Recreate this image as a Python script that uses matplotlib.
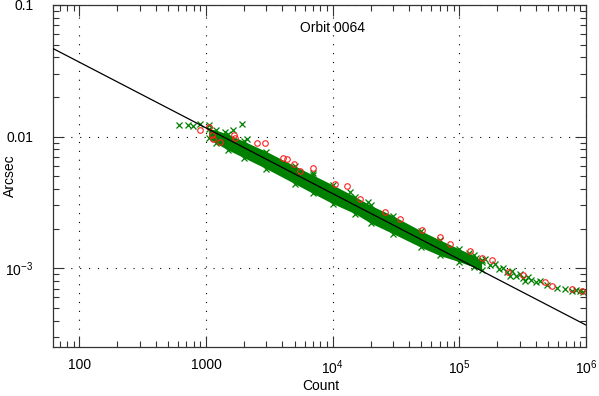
import matplotlib
matplotlib.use('Agg')
import matplotlib.pyplot as plt
from matplotlib.ticker import FixedLocator, LogLocator, NullFormatter

plt.rcParams['font.family'] = ['Liberation Sans', 'DejaVu Sans']
plt.rcParams['mathtext.default'] = 'regular'

# fit line (end points)
line_x = [62, 1.0e6]
line_y = [0.0467, 0.00037]

# dense core of the green cloud: lower / upper edge at each count
band_x = [1050, 1200, 1500, 2000, 3000, 5000, 7000, 10000, 15000, 20000,
          30000, 50000, 70000, 100000, 130000, 150000]
band_lo = [0.0098, 0.0089, 0.0079, 0.0069, 0.0057, 0.0044, 0.0037, 0.0031,
           0.0026, 0.0022, 0.00183, 0.00144, 0.00125, 0.00112, 0.00102, 0.00097]
band_hi = [0.0115, 0.0112, 0.0104, 0.0092, 0.0077, 0.0060, 0.0051, 0.0043,
           0.0035, 0.0030, 0.00250, 0.00192, 0.00164, 0.00140, 0.00125, 0.00115]

# green crosses outside the core
green_x = [615, 724, 794, 902, 1062, 1419, 1641, 1936, 2118, 7031, 13770, 19100,
           120000, 135000, 150000, 160000, 175000, 190000, 205000, 220000, 240000,
           250000, 260000, 280000, 300000, 320000, 330000, 350000, 370000, 400000,
           430000, 490000, 590000, 680000, 770000, 830000, 900000, 950000]
green_y = [0.01233, 0.01233, 0.0121, 0.01254, 0.01233, 0.0109, 0.0113, 0.01254,
           0.00966, 0.00533, 0.00377, 0.00316,
           0.00130, 0.00120, 0.00112, 0.00117, 0.00105, 0.00108, 0.00099, 0.00100,
           0.00093, 0.00087, 0.00095, 0.00088, 0.00090, 0.00084, 0.00080, 0.00086,
           0.00081, 0.00079, 0.00080, 0.00075, 0.000705, 0.00070, 0.00067, 0.00068,
           0.00067, 0.00066]

# red circles
red_x = [902, 1062, 1122, 1143, 1298, 1672, 1702, 2541, 2938, 4074, 4385, 4977,
         5546, 7031, 10490, 13040, 16500, 26000, 34200, 50900, 70600, 84700,
         122000, 152000, 182000, 243000, 319000, 477000, 541000, 778000, 933000]
red_y = [0.0113, 0.0119, 0.01036, 0.00966, 0.00917, 0.01036, 0.00982, 0.00901,
         0.00901, 0.00693, 0.00681, 0.00614, 0.00552, 0.00582, 0.00433, 0.00425,
         0.00334, 0.00266, 0.00235, 0.00194, 0.00172, 0.00152, 0.00135, 0.00119,
         0.00115, 0.000933, 0.000885, 0.000784, 0.000731, 0.000694, 0.00067]

fig = plt.figure(figsize=(5.99, 3.96), dpi=100)
ax = fig.add_axes([0.0885, 0.1237, 0.8898, 0.8637])

green = '#008000'
ax.fill_between(band_x, band_lo, band_hi, color=green, linewidth=0, zorder=2)
ax.plot(band_x, band_lo, 'x', color=green, ms=5, mew=0.9, zorder=2)
ax.plot(band_x, band_hi, 'x', color=green, ms=5, mew=0.9, zorder=2)
ax.plot(green_x, green_y, 'x', color=green, ms=5, mew=0.9, zorder=2)
ax.plot(red_x, red_y, 'o', mfc='none', mec='#ff2020', ms=4, mew=0.8, zorder=3)
ax.plot(line_x, line_y, color='black', lw=0.9, zorder=4)

ax.set_xscale('log')
ax.set_yscale('log')
ax.set_xlim(62, 1.0e6)
ax.set_ylim(2.52e-4, 0.1)

ax.xaxis.set_major_locator(FixedLocator([100, 1000, 1e4, 1e5, 1e6]))
ax.set_xticklabels(['100', '1000', '$10^4$', '$10^5$', '$10^6$'])
ax.yaxis.set_major_locator(FixedLocator([1e-3, 0.01, 0.1]))
ax.set_yticklabels(['$10^{-3}$', '0.01', '0.1'])
ax.xaxis.set_minor_locator(LogLocator(base=10, subs=range(2, 10)))
ax.yaxis.set_minor_locator(LogLocator(base=10, subs=range(2, 10)))
ax.xaxis.set_minor_formatter(NullFormatter())
ax.yaxis.set_minor_formatter(NullFormatter())

ax.tick_params(which='both', direction='in', top=True, right=True,
               labelsize=10, width=0.8, color='#333333')
ax.tick_params(which='major', length=8, pad=8)
ax.tick_params(which='minor', length=4)
ax.tick_params(axis='y', which='major', pad=14)

for spine in ax.spines.values():
    spine.set_linewidth(0.9)
    spine.set_color('#333333')

ax.grid(True, which='major', color='black', linewidth=0.8,
        linestyle=(0, (1.0, 7.0)))

ax.text(0.525, 0.933, 'Orbit 0064', transform=ax.transAxes,
        ha='center', va='center', fontsize=10)
# axis titles placed directly
fig.text(0.536, 0.025, 'Count', ha='center', va='center', fontsize=10)
fig.text(0.016, 0.556, 'Arcsec', ha='center', va='center', rotation=90,
         fontsize=10)

fig.savefig('out.png', dpi=100)
